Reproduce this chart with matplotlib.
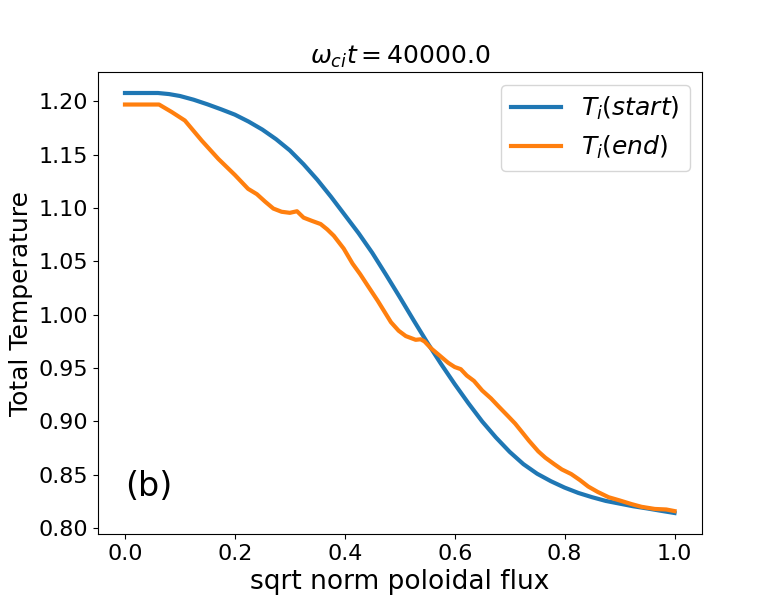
import matplotlib
matplotlib.use('Agg')
from matplotlib import pyplot as plt

# start profile
psi_start = [0.000, 0.060, 0.080, 0.100, 0.125, 0.150, 0.175, 0.200, 0.225, 0.250,
             0.275, 0.300, 0.325, 0.350, 0.375, 0.400, 0.425, 0.450, 0.475, 0.500,
             0.525, 0.550, 0.575, 0.600, 0.625, 0.650, 0.675, 0.700, 0.725, 0.750,
             0.775, 0.800, 0.825, 0.850, 0.875, 0.900, 0.925, 0.950, 0.975, 1.000]
ti_start = [1.2078, 1.2078, 1.2068, 1.2050, 1.2015, 1.1972, 1.1925, 1.1875, 1.1810, 1.1735,
            1.1645, 1.1540, 1.1410, 1.1265, 1.1105, 1.0935, 1.0765, 1.0580, 1.0375, 1.0165,
            0.9950, 0.9740, 0.9540, 0.9350, 0.9170, 0.9000, 0.8850, 0.8715, 0.8600, 0.8510,
            0.8440, 0.8380, 0.8330, 0.8290, 0.8255, 0.8230, 0.8205, 0.8185, 0.8163, 0.8142]

# end profile
psi_end = [0.000, 0.062, 0.085, 0.109, 0.140, 0.170, 0.200, 0.224, 0.240, 0.255,
           0.270, 0.285, 0.300, 0.313, 0.325, 0.340, 0.356, 0.368, 0.380, 0.398,
           0.414, 0.428, 0.442, 0.460, 0.472, 0.484, 0.498, 0.511, 0.529, 0.538,
           0.545, 0.557, 0.572, 0.588, 0.600, 0.611, 0.622, 0.635, 0.650, 0.666,
           0.680, 0.697, 0.710, 0.721, 0.735, 0.752, 0.765, 0.781, 0.795, 0.812,
           0.828, 0.843, 0.860, 0.880, 0.900, 0.922, 0.940, 0.964, 0.985, 1.000]
ti_end = [1.197, 1.197, 1.190, 1.182, 1.163, 1.146, 1.131, 1.118, 1.113, 1.106,
          1.0995, 1.0965, 1.0955, 1.097, 1.091, 1.088, 1.085, 1.080, 1.074, 1.062,
          1.048, 1.038, 1.027, 1.013, 1.003, 0.993, 0.985, 0.980, 0.9765, 0.977,
          0.975, 0.9685, 0.962, 0.955, 0.951, 0.949, 0.943, 0.938, 0.929, 0.9216,
          0.914, 0.905, 0.898, 0.891, 0.882, 0.872, 0.866, 0.860, 0.855, 0.8507,
          0.845, 0.839, 0.834, 0.829, 0.826, 0.8225, 0.820, 0.818, 0.8175, 0.816]

fig = plt.figure(figsize=(7.8, 6))
ax = fig.add_subplot(111)
ax.plot(psi_start, ti_start, lw=3, label=r'$T_i(start)$')
ax.plot(psi_end, ti_end, lw=3, label=r'$T_i(end)$')

ax.set_title(r'$\omega_{ci}t = 40000.0$', fontsize=18)
ax.set_xlabel('sqrt norm poloidal flux', fontsize=19)
ax.set_ylabel('Total Temperature', fontsize=18)
ax.tick_params(labelsize=16)
ax.legend(fontsize=18, loc='upper right')
ax.text(0.0, 0.83, '(b)', fontsize=24)

plt.savefig('out.png')
